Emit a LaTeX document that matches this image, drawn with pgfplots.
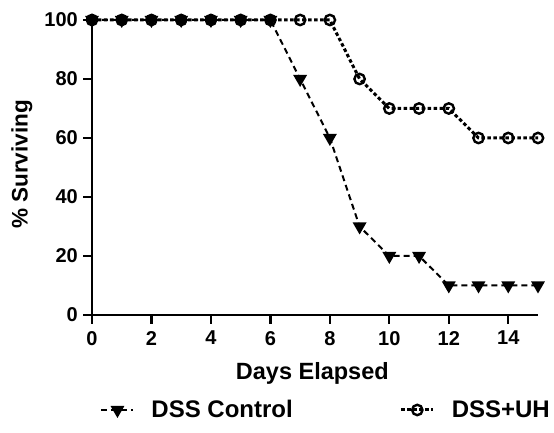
\documentclass[border=0pt]{standalone}
\usepackage{fontspec}
\setmainfont{Liberation Sans}
\usepackage{pgfplots}
\pgfplotsset{compat=1.18}

\begin{document}
\begin{tikzpicture}
\begin{axis}[
    scale only axis,
    width=446pt, height=295pt,
    xmin=0, xmax=15, ymin=0, ymax=100,
    axis x line*=bottom,
    axis y line*=left,
    axis line style={line width=2.2pt},
    xtick={0,2,...,14},
    ytick={0,20,...,100},
    tick align=outside,
    major tick length=8pt,
    major tick style={black, line width=2.2pt},
    /pgf/number format/assume math mode=true,
    tick label style={font=\fontsize{20}{20}\selectfont\bfseries},
    xticklabel style={inner sep=2pt, yshift=-6pt},
    yticklabel style={inner sep=2pt, xshift=-4pt},
    xlabel={Days Elapsed},
    ylabel={\% Surviving},
    every axis x label/.style={at={(axis description cs:0.494,0)}, yshift=-65pt, anchor=base,
        font=\fontsize{23.5}{23.5}\selectfont\bfseries},
    every axis y label/.style={at={(axis description cs:-0.157,0.51)}, rotate=90, anchor=center,
        font=\fontsize{22.5}{22.5}\selectfont\bfseries},
    clip=false,
    legend columns=2,
    reverse legend,
    legend style={draw=none, at={(axis description cs:0.525,-0.322)}, anchor=center,
        font=\fontsize{24}{24}\selectfont\bfseries,
        /tikz/every odd column/.append style={column sep=15pt},
        /tikz/every even column/.append style={column sep=105pt}},
    legend image code/.code={
        \draw[#1, mark repeat=2, mark phase=2] plot coordinates {(0pt,0pt) (16pt,0pt) (32pt,0pt)};},
]
\addplot[black, line width=3pt, dash pattern=on 3.5pt off 2.5pt,
    mark=o, mark size=5.2pt, mark options={solid, line width=2.4pt, fill=white}]
    coordinates {(0,100) (1,100) (2,100) (3,100) (4,100) (5,100) (6,100) (7,100) (8,100)
    (9,80) (10,70) (11,70) (12,70) (13,60) (14,60) (15,60)};
\addplot[black, line width=2pt, dash pattern=on 6pt off 4pt,
    mark=triangle*, mark size=6pt, mark options={solid, rotate=180}]
    coordinates {(0,100) (1,100) (2,100) (3,100) (4,100) (5,100) (6,100) (7,80) (8,60)
    (9,30) (10,20) (11,20) (12,10) (13,10) (14,10) (15,10)};
\legend{DSS+UH, DSS Control}
\end{axis}
% outward tick marks as plain strokes, in case the axis' own ones do not show
\foreach \i in {0,...,7}
    \draw[line width=2.2pt, black, line cap=rect] (current axis.south west) ++(\i*59.4667pt,0pt) -- ++(0pt,-8pt);
\foreach \j in {0,...,5}
    \draw[line width=2.2pt, black, line cap=rect] (current axis.south west) ++(0pt,\j*59pt) -- ++(-8pt,0pt);
\pgfresetboundingbox
\path (current axis.south west) ++(-92pt,-118pt) coordinate (bl);
\path (current axis.north east) ++(16pt,20pt) coordinate (tr);
\useasboundingbox (bl) rectangle (tr);
\end{tikzpicture}
\end{document}
